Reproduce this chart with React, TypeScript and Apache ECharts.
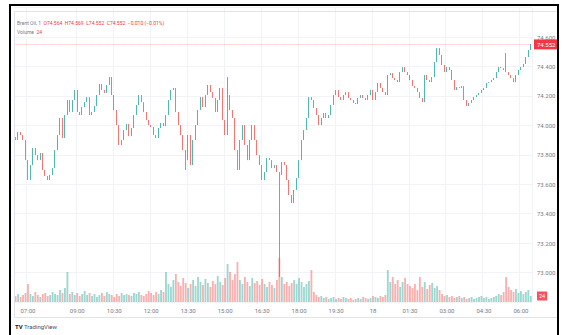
import React, { useEffect, useRef } from "react";
import * as echarts from "echarts";

// ---- data ----
const firstOpen = 73.92;
const closes = [
  73.900, 73.955, 73.934, 73.900, 73.764, 73.629, 73.730, 73.846, 73.798, 73.764,
  73.812, 73.697, 73.656, 73.629, 73.663, 73.710, 73.832, 73.934, 74.050, 73.914,
  74.070, 74.172, 74.091, 74.172, 74.240, 74.091, 74.070, 74.124, 74.158, 74.192,
  74.070, 74.091, 74.131, 74.206, 74.281, 74.240, 74.220, 74.274, 74.328, 74.206,
  74.104, 74.002, 73.866, 73.900, 73.968, 74.009, 73.927, 73.982, 74.070, 74.138,
  74.206, 74.158, 74.091, 74.036, 74.002, 73.989, 73.934, 73.914, 73.982, 74.016,
  73.995, 74.070, 74.172, 74.240, 74.254, 74.091, 74.002, 73.934, 73.832, 73.764,
  73.934, 73.730, 73.900, 74.002, 74.104, 74.192, 74.124, 74.206, 74.274, 74.226,
  74.186, 74.091, 74.172, 74.254, 74.036, 73.934, 74.206, 74.104, 74.050, 73.832,
  73.697, 73.900, 74.002, 73.866, 73.764, 73.900, 74.002, 73.900, 73.798, 73.730,
  73.629, 73.683, 73.778, 73.764, 73.710, 73.730, 73.683, 73.663, 73.751, 73.730,
  73.629, 73.527, 73.472, 73.561, 73.642, 73.764, 73.900, 73.968, 74.050, 74.192,
  74.172, 74.118, 74.070, 74.002, 74.050, 74.084, 74.050, 74.070, 74.138, 74.206,
  74.240, 74.192, 74.172, 74.206, 74.226, 74.186, 74.172, 74.152, 74.145, 74.186,
  74.206, 74.186, 74.172, 74.206, 74.240, 74.172, 74.226, 74.288, 74.254, 74.226,
  74.206, 74.342, 74.355, 74.321, 74.308, 74.294, 74.362, 74.396, 74.362, 74.342,
  74.308, 74.267, 74.254, 74.226, 74.186, 74.158, 74.342, 74.308, 74.294, 74.328,
  74.430, 74.525, 74.478, 74.410, 74.362, 74.396, 74.376, 74.308, 74.240, 74.260,
  74.254, 74.267, 74.172, 74.131, 74.152, 74.172, 74.192, 74.206, 74.220, 74.240,
  74.254, 74.288, 74.294, 74.308, 74.321, 74.362, 74.396, 74.389, 74.376, 74.362,
  74.342, 74.321, 74.294, 74.342, 74.376, 74.396, 74.417, 74.464, 74.512, 74.552,
];
const wickHighs: [number, number][] = [[86, 74.328], [199, 74.491]];
const wickLows: [number, number][] = [[69, 73.697], [107, 72.97]];
const volumes = [
  24, 32, 20, 28, 36, 72, 32, 24, 40, 28,
  20, 32, 36, 24, 28, 40, 32, 28, 48, 36,
  56, 120, 32, 40, 28, 36, 24, 32, 44, 28,
  36, 24, 32, 20, 28, 36, 24, 40, 32, 28,
  20, 32, 24, 36, 28, 32, 28, 24, 36, 32,
  40, 28, 24, 32, 44, 36, 28, 40, 32, 48,
  40, 120, 72, 60, 88, 112, 80, 64, 96, 76,
  56, 72, 88, 64, 100, 80, 68, 92, 76, 60,
  84, 72, 104, 80, 68, 96, 152, 120, 88, 112,
  160, 88, 72, 100, 80, 64, 96, 76, 84, 68,
  92, 72, 60, 80, 68, 56, 88, 176, 100, 72,
  80, 64, 76, 88, 72, 96, 80, 60, 72, 84,
  128, 40, 28, 20, 24, 16, 20, 12, 16, 20,
  12, 16, 12, 20, 16, 12, 16, 8, 12, 16,
  12, 20, 16, 12, 16, 24, 20, 16, 24, 20,
  28, 128, 80, 100, 72, 88, 60, 80, 96, 72,
  64, 56, 72, 48, 100, 60, 80, 52, 68, 76,
  56, 64, 48, 32, 24, 28, 20, 24, 16, 20,
  24, 16, 20, 12, 16, 20, 12, 16, 20, 24,
  16, 20, 12, 16, 20, 24, 32, 28, 40, 100,
  60, 48, 40, 52, 36, 44, 32, 40, 48, 24,
];
const tickIdx = [5, 25, 40, 55, 70, 85, 100, 115, 130, 145, 160, 175, 190, 205];
const tickLabels = ["07:00", "09:00", "10:30", "12:00", "13:30", "15:00", "16:30", "18:00", "19:30", "18", "01:30", "03:00", "04:30", "06:00"];
const lastPrice = 74.552;
const lastVolume = 24;
const symbolText = "Brent Oil, 1";
const ohlcTexts = ["O74.564", "H74.569", "L74.552", "C74.552", "\u22120.010 (\u22120.01%)"];

const UP = "#26a69a";
const DOWN = "#ef5350";
const FONT = "Roboto, 'Noto Sans', sans-serif";

export default function App() {
  const ref = useRef<HTMLDivElement>(null);
  useEffect(() => {
    if (!ref.current) return;
    const chart = echarts.init(ref.current, undefined, { renderer: "svg" });
    const cats = closes.map((_, i) => String(i));
    const ohlc = closes.map((c, i) => {
      const o = i === 0 ? firstOpen : closes[i - 1];
      let h = Math.max(o, c);
      let l = Math.min(o, c);
      const wh = wickHighs.find((w) => w[0] === i);
      if (wh) h = Math.max(h, wh[1]);
      const wl = wickLows.find((w) => w[0] === i);
      if (wl) l = Math.min(l, wl[1]);
      return [o, c, l, h];
    });
    const vol = volumes.map((v, i) => {
      const up = ohlc[i][1] >= ohlc[i][0];
      return { value: v, itemStyle: { color: up ? "rgba(38,166,154,0.45)" : "rgba(239,83,80,0.45)" } };
    });
    const isTick = (i: number) => tickIdx.includes(i);
    const gLeft = 14.4;
    const gRight = 32;
    chart.setOption({
      animation: false,
      backgroundColor: "#ffffff",
      grid: [
        { left: gLeft, right: gRight, top: 7.6, bottom: 33 },
        { left: gLeft, right: gRight, top: 252, bottom: 33 },
      ],
      xAxis: [
        {
          type: "category",
          data: cats,
          gridIndex: 0,
          boundaryGap: true,
          axisLine: { show: false },
          axisTick: { show: false },
          axisLabel: {
            interval: (i: number) => isTick(i),
            formatter: (v: string) => {
              const k = tickIdx.indexOf(parseInt(v, 10));
              return k >= 0 ? tickLabels[k] : "";
            },
            color: "#787b86",
            fontSize: 6,
            fontFamily: FONT,
            margin: 5,
          },
          splitLine: { show: true, interval: (i: number) => isTick(i), lineStyle: { color: "#f2f3f6", width: 1 } },
        },
        {
          type: "category",
          data: cats,
          gridIndex: 1,
          boundaryGap: true,
          show: false,
        },
      ],
      yAxis: [
        {
          type: "value",
          gridIndex: 0,
          position: "right",
          min: 72.8,
          max: 74.8,
          interval: 0.2,
          axisLine: { show: false },
          axisTick: { show: false },
          axisLabel: {
            formatter: (v: number) => v.toFixed(3),
            showMinLabel: false,
            showMaxLabel: false,
            color: "#787b86",
            fontSize: 6,
            fontFamily: FONT,
            margin: 5,
          },
          splitLine: { show: true, lineStyle: { color: "#f2f3f6", width: 1 } },
        },
        { type: "value", gridIndex: 1, min: 0, max: 200, show: false },
      ],
      series: [
        {
          type: "bar",
          xAxisIndex: 1,
          yAxisIndex: 1,
          data: vol,
          barWidth: "75%",
          z: 1,
          markLine: {
            silent: true,
            symbol: "none",
            lineStyle: { color: "transparent", width: 0 },
            label: {
              show: true,
              position: "end",
              distance: 5,
              formatter: String(lastVolume),
              color: "#ffffff",
              backgroundColor: "#f7525f",
              padding: [2, 2, 1, 2],
              fontSize: 5.5,
              fontFamily: FONT,
            },
            data: [{ yAxis: lastVolume }],
          },
        },
        {
          type: "candlestick",
          xAxisIndex: 0,
          yAxisIndex: 0,
          data: ohlc,
          barWidth: "50%",
          z: 3,
          itemStyle: { color: UP, color0: DOWN, borderColor: UP, borderColor0: DOWN, borderWidth: 0.8 },
          markLine: {
            silent: true,
            symbol: "none",
            lineStyle: { color: "rgba(242,54,69,0.35)", type: "dotted", width: 1 },
            label: {
              show: true,
              position: "end",
              distance: 2,
              formatter: lastPrice.toFixed(3),
              color: "#ffffff",
              backgroundColor: "#f23645",
              padding: [2, 3, 2, 3],
              fontSize: 6,
              fontFamily: FONT,
            },
            data: [{ yAxis: lastPrice }],
          },
        },
      ],
      graphic: [
        { type: "rect", z: 100, shape: { x: 14.5, y: 11.5, width: 543, height: 306 }, style: { fill: "none", stroke: "#e0e3eb", lineWidth: 1 } },
        { type: "rect", z: 101, shape: { x: 10, y: 5, width: 548, height: 345 }, style: { fill: "none", stroke: "#000000", lineWidth: 2 } },
        {
          type: "text", z: 102, x: 17, y: 23,
          style: {
            text: `{a|${symbolText}}  ` + ohlcTexts.map((t) => `{b|${t}}`).join("  "),
            fontSize: 5,
            fontFamily: FONT,
            verticalAlign: "middle",
            rich: {
              a: { fill: "#787b86", color: "#787b86", fontSize: 5, fontFamily: FONT },
              b: { fill: "#f23645", color: "#f23645", fontSize: 5, fontFamily: FONT },
            },
          },
        },
        {
          type: "text", z: 102, x: 17, y: 32,
          style: {
            text: `{a|Volume}  {b|${lastVolume}}`,
            fontSize: 5,
            fontFamily: FONT,
            verticalAlign: "middle",
            rich: {
              a: { fill: "#787b86", color: "#787b86", fontSize: 5, fontFamily: FONT },
              b: { fill: "#f23645", color: "#f23645", fontSize: 5, fontFamily: FONT },
            },
          },
        },
        { type: "text", z: 102, x: 15, y: 326, style: { text: "TV", fill: "#131722", fontSize: 6, fontWeight: "bold", fontFamily: FONT, verticalAlign: "middle" } },
        { type: "text", z: 102, x: 24, y: 326, style: { text: "TradingView", fill: "#4a4e59", fontSize: 6, fontFamily: FONT, verticalAlign: "middle" } },
      ],
    });
    return () => chart.dispose();
  }, []);
  return <div ref={ref} style={{ position: "fixed", left: 0, top: 0, width: 564, height: 335 }} />;
}
